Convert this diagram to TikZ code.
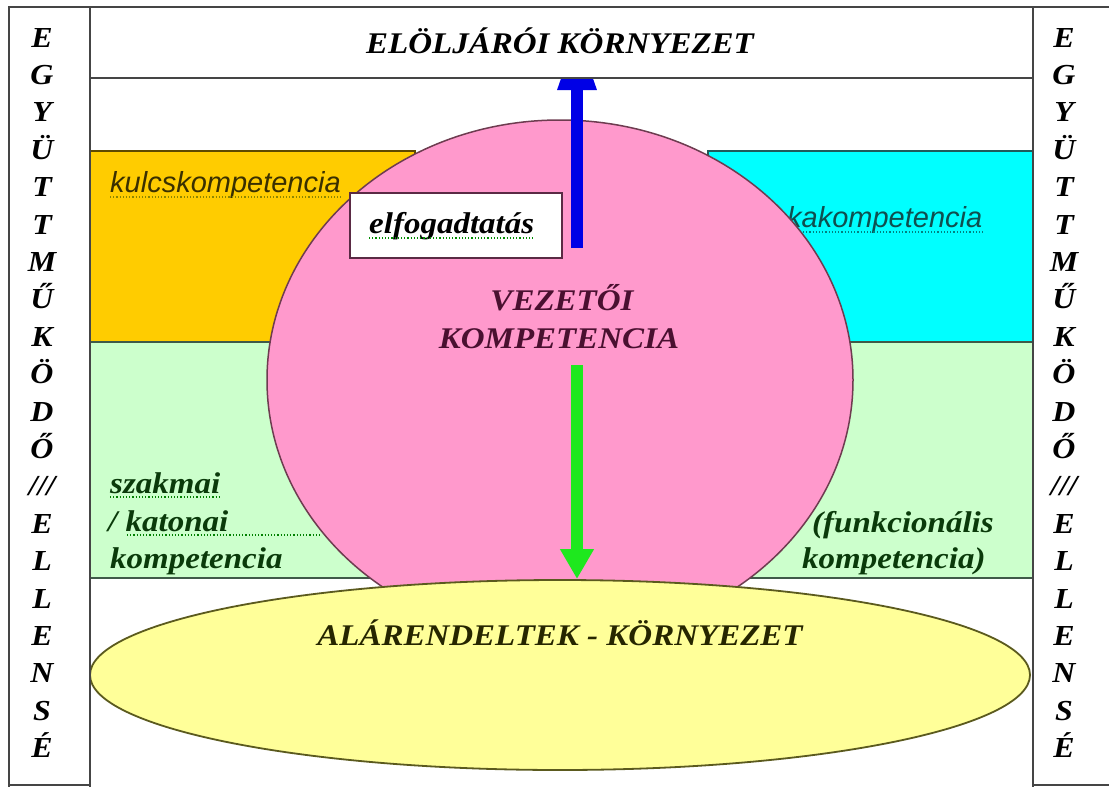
\documentclass[tikz,border=0pt]{standalone}
\usepackage{fontspec}
\setmainfont{Liberation Serif}
\newfontfamily\bifont[FakeStretch=1.1]{Liberation Serif}
\newfontfamily\sifont{Liberation Sans}
\usetikzlibrary{shapes.geometric,arrows.meta}
\definecolor{frameC}{HTML}{454545}
\definecolor{orangeF}{HTML}{FFCC00}
\definecolor{orangeD}{HTML}{5E4A00}
\definecolor{cyanF}{HTML}{00FFFF}
\definecolor{cyanD}{HTML}{1F5A5A}
\definecolor{greenF}{HTML}{CCFFCC}
\definecolor{greenD}{HTML}{3F5A48}
\definecolor{pinkF}{HTML}{FF99CC}
\definecolor{pinkD}{HTML}{6E3C50}
\definecolor{yellowF}{HTML}{FFFF99}
\definecolor{yellowD}{HTML}{5B5A1E}
\definecolor{boxD}{HTML}{5A2A44}
\definecolor{blueA}{HTML}{0000E6}
\definecolor{greenA}{HTML}{1EE81E}
\definecolor{maroonT}{HTML}{4A1030}
\definecolor{oliveT}{HTML}{262600}
\definecolor{kulcsT}{HTML}{3A3000}
\definecolor{tealT}{HTML}{0F4F4F}
\definecolor{dgreenT}{HTML}{0A3A0A}
\begin{document}
\begin{tikzpicture}[x=1pt,y=-1pt,
  frameline/.style={draw=frameC, line width=2pt},
  plainbox/.style={inner sep=0pt, outer sep=0pt, anchor=north west},
  capsT/.style={font=\bifont\bfseries\itshape\fontsize{30}{36}\selectfont, inner sep=0pt, anchor=base},
  letterT/.style={font=\bifont\bfseries\itshape\fontsize{29}{34}\selectfont, inner sep=0pt, anchor=base},
  lowT/.style={font=\bifont\bfseries\itshape\fontsize{30}{36}\selectfont, inner sep=0pt, anchor=base west},
  sansT/.style={font=\sifont\itshape\fontsize{29}{34}\selectfont, inner sep=0pt, anchor=base west},
  squig/.style={draw=#1, dotted, line width=1.2pt},
  fatarrow/.style={line width=12pt},
]
\useasboundingbox (0,0) rectangle (1109,787);
\fill[white] (0,0) rectangle (1109,787);

% coloured areas
\node[plainbox, draw=orangeD, fill=orangeF, line width=2pt, minimum width=325pt, minimum height=191pt] (kulcsbox) at (90,151) {};
\node[plainbox, draw=cyanD, fill=cyanF, line width=2pt, minimum width=325pt, minimum height=191pt] (szakbox) at (708,151) {};
\node[plainbox, draw=greenD, fill=greenF, line width=2pt, minimum width=943pt, minimum height=236pt] (band) at (90,342) {};

% texts under the circle
\node[sansT, text=kulcsT] (kulcs) at (110,192) {kulcskompetencia};
\draw[squig={olive}] ([yshift=-5pt]kulcs.base west) -- ([yshift=-5pt]kulcs.base east);
\node[sansT, text=tealT] (kako) at (787,227) {kakompetencia};
\draw[squig={teal}] ([yshift=-5pt]kako.base west) -- ([yshift=-5pt]kako.base east);
\node[lowT, text=dgreenT] (szak) at (110,493) {szakmai};
\draw[squig={green!50!black}] ([yshift=-4pt]szak.base west) -- ([yshift=-4pt]szak.base east);
\node[lowT, text=dgreenT] (kat) at (108,531) {/ katonai};
\draw[squig={green!50!black}] ([xshift=19pt,yshift=-4pt]kat.base west) -- ++(193,0);
\node[lowT, text=dgreenT] (komp1) at (110,568) {kompetencia};
\node[lowT, text=dgreenT] (funk1) at (812,532) {(funkcionális};
\node[lowT, text=dgreenT] (funk2) at (802,568) {kompetencia)};

% circle and ellipse
\node[ellipse, draw=pinkD, fill=pinkF, line width=1.5pt, minimum width=586pt, minimum height=520pt, inner sep=0pt] (vez) at (560,380) {};
\node[ellipse, draw=yellowD, fill=yellowF, line width=1.8pt, minimum width=940pt, minimum height=190pt, inner sep=0pt] (alar) at (560,675) {};

% acceptance box
\node[plainbox, draw=boxD, fill=white, line width=2pt, minimum width=212pt, minimum height=65pt] (elfbox) at (350,193) {};
\node[lowT, text=black] (elf) at (369,233) {elfogadtatás};
\draw[squig={green!55!black}] ([yshift=-5pt]elf.base west) -- ([yshift=-5pt]elf.base east);

% blue arrow (tip hidden under the header)
\coordinate (bstart) at (577,248);
\coordinate (bend) at (577,30);
\draw[fatarrow, draw=blueA, -{Triangle[width=36pt,length=60pt]}] (bstart) -- (bend);

% header and frame
\node[plainbox, draw=frameC, fill=white, line width=2pt, minimum width=943pt, minimum height=71pt] (header) at (90,7) {};
\node[capsT, text=black] (headT) at (560,53) {ELÖLJÁRÓI KÖRNYEZET};
\draw[frameline] (9,787) -- (9,7) -- (1109,7);
\draw[frameline] (90,7) -- (90,787);
\draw[frameline] (1033,7) -- (1033,787);
\draw[frameline] (9,785) -- (90,785);
\draw[frameline] (1033,785) -- (1109,785);

% green arrow
\coordinate (gstart) at (577,365);
\coordinate (gend) at (577,579);
\draw[fatarrow, draw=greenA, -{Triangle[width=32pt,length=30pt]}] (gstart) -- (gend);

% main labels
\node[capsT, text=maroonT] (vez1) at (562,310) {VEZETŐI};
\node[capsT, text=maroonT] (vez2) at (559,348) {KOMPETENCIA};
\node[capsT, text=oliveT] (alarT) at (560,645) {ALÁRENDELTEK - KÖRNYEZET};

% side columns
\foreach \l [count=\i from 0] in {E,G,Y,Ü,T,T,M,Ű,K,Ö,D,Ő,///,E,L,L,E,N,S,É} {
  \node[letterT] (L\i) at (42,{47+37.4*\i}) {\l};
  \node[letterT] (R\i) at (1064,{47+37.4*\i}) {\l};
}
\end{tikzpicture}
\end{document}
